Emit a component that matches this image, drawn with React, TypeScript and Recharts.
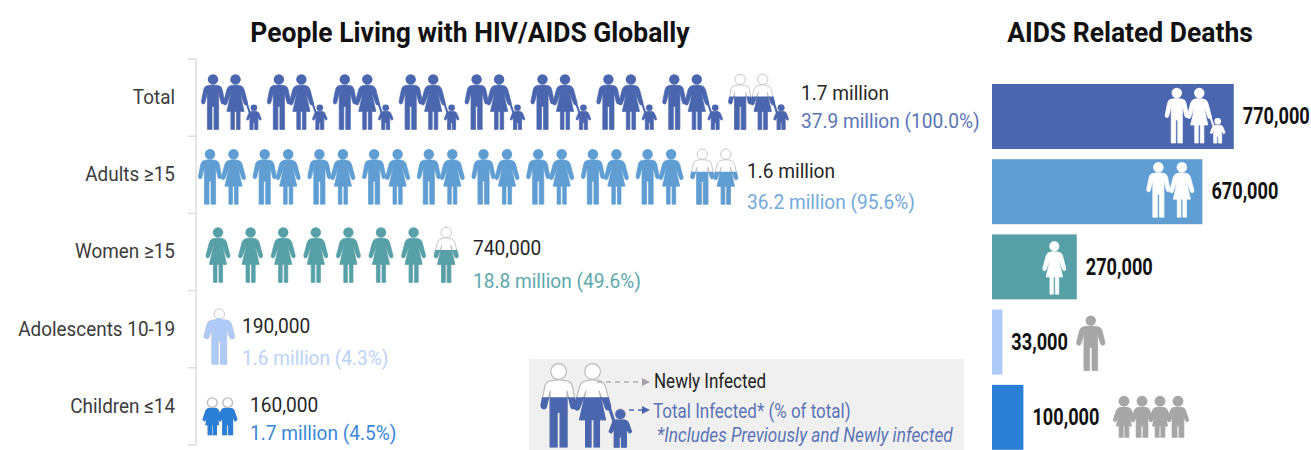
import { BarChart, Bar, XAxis, YAxis, LabelList } from 'recharts';

// left panel: people living with HIV/AIDS
const categories = ['Total', 'Adults ≥15', 'Women ≥15', 'Adolescents 10-19', 'Children ≤14'];
const totalInfected = [37.9, 36.2, 18.8, 1.6, 1.7];
const iconCounts = [9, 10, 8, 1, 1];
const lastIconFill = [0.6, 0.59, 0.59, 0.84, 0.72];
const newlyLabels = ['1.7 million', '1.6 million', '740,000', '190,000', '160,000'];
const totalLabels = ['37.9 million (100.0%)', '36.2 million (95.6%)', '18.8 million (49.6%)', '1.6 million (4.3%)', '1.7 million (4.5%)'];

// right panel: deaths
const deaths = [770000, 670000, 270000, 33000, 100000];

const leftData = categories.map((name, i) => ({ name, total: totalInfected[i] }));
const rightData = categories.map((name, i) => ({ name, deaths: deaths[i] }));

const COLORS = ['#4a66ae', '#5f9dd2', '#58a0a8', '#aecbf8', '#2a7ed6'];
const TEXT_COLORS = ['#5a74b6', '#72a9da', '#5ea8ad', '#bad2f8', '#3a86d8'];
const GRAY = '#a6a6a6';
const OUTLINE = '#bdb8c0';
const FONT = 'Roboto, sans-serif';
const BAND = 77.2;

const MAN = 'M6,11 Q11,10 16,11 Q19.5,11.5 20.2,15 L22.6,27 Q22.9,29 21.2,29.6 Q19.5,30 19,28 L16.6,18 L16.6,55 L12,55 L12,32 L10,32 L10,55 L5.4,55 L5.4,18 L3,28 Q2.5,30 0.8,29.6 Q-0.9,29 -0.6,27 L1.8,15 Q2.5,11.5 6,11Z';
const WOMAN = 'M7,11 Q11,10 15,11 Q18.5,11.5 19.6,15 L23,28 Q23.3,30 21.7,30.5 Q20,30.8 19.5,29 L15.4,18 L19.6,37 L15.6,37 L15.6,55 L12,55 L12,37 L10,37 L10,55 L6.4,55 L6.4,37 L2.4,37 L6.6,18 L2.5,29 Q2,30.8 0.3,30.5 Q-1.3,30 -1,28 L2.4,15 Q3.5,11.5 7,11Z';
const BOY = 'M4,6.3 L9,6.3 Q11,6.8 11.5,9 L13,13 L11.7,13.8 L10,11 L10,22 L7.2,22 L7.2,16 L5.8,16 L5.8,22 L3,22 L3,11 L1.3,13.8 L0,13 L1.5,9 Q2,6.8 4,6.3Z';
const GIRL = 'M4.2,6.3 L8.8,6.3 Q11,6.8 11.5,9 L13,13 L11.7,13.8 L9.6,10.5 L11,16 L9.4,16 L9.4,22 L7.1,22 L7.1,16 L5.9,16 L5.9,22 L3.6,22 L3.6,16 L2,16 L3.4,10.5 L1.3,13.8 L0,13 L1.5,9 Q2,6.8 4.2,6.3Z';

type Paint = { fill: string; stroke?: string };

// no condensed face is installed, so Roboto gets squeezed horizontally
function NarrowText({ x, y, squeeze = 0.91, anchor = 'start', children, ...rest }: any) {
  return (
    <text transform={`translate(${x},${y}) scale(${squeeze},1)`} textAnchor={anchor} dominantBaseline="central" fontFamily={FONT} {...rest}>
      {children}
    </text>
  );
}

function Person({ d, dx = 0, dy = 0, sx = 1, size = 1, paint, w = 22, r = 5.2, headY = 5, weight = 0.7 }: { d: string; dx?: number; dy?: number; sx?: number; size?: number; paint: Paint; w?: number; r?: number; headY?: number; weight?: number }) {
  return (
    <g transform={`translate(${dx},${dy}) scale(${size})`} fill={paint.fill} stroke={paint.stroke ?? paint.fill} strokeWidth={paint.stroke ? 0.8 : weight} strokeLinejoin="round">
      <circle cx={(w / 2) * sx} cy={headY} r={r} strokeWidth={paint.stroke ? 0.8 : 0} />
      <path d={d} transform={`scale(${sx},1)`} />
    </g>
  );
}

const manOf = (paint: Paint, dx = 0, sx = 1) => <Person d={MAN} paint={paint} dx={dx} sx={sx} />;
const womanOf = (paint: Paint, dx = 0) => <Person d={WOMAN} paint={paint} dx={dx} />;

function Child({ d, dx = 0, dy = 0, size = 1, sx = 1, paint }: { d: string; dx?: number; dy?: number; size?: number; sx?: number; paint: Paint }) {
  return <Person d={d} dx={dx} dy={dy} size={size} sx={sx} paint={paint} w={13} r={2.9} headY={2.9} weight={0.7} />;
}

function Couple({ paint }: { paint: Paint }) {
  return <>{manOf(paint)}{womanOf(paint, 23.5)}</>;
}

function Family({ paint }: { paint: Paint }) {
  return (
    <>
      {manOf(paint)}
      {womanOf(paint, 22.5)}
      <line x1={44} y1={27} x2={48} y2={39} stroke={paint.stroke ?? paint.fill} strokeWidth={2} />
      <Child d={BOY} dx={44.5} dy={30} size={1.14} paint={paint} />
    </>
  );
}

function Pair({ paint }: { paint: Paint }) {
  return (
    <>
      <Child d={GIRL} sx={0.85} size={2.5} paint={paint} />
      <Child d={BOY} dx={23} sx={0.85} size={2.5} paint={paint} />
    </>
  );
}

const GLYPHS = [
  (p: Paint) => <Family paint={p} />,
  (p: Paint) => <Couple paint={p} />,
  (p: Paint) => womanOf(p),
  (p: Paint) => manOf(p, 0, 1.3),
  (p: Paint) => <Pair paint={p} />,
];

// per row: where the icons start, their step, top and scale, and where the two labels sit
const ROWS = [
  { start: 6, step: 65.9, top: -23.6, size: 1, label: 605, up: -5, down: 22.5 },
  { start: 3, step: 54.7, top: -26, size: 1, label: 551, up: -5, down: 26 },
  { start: 11, step: 32.6, top: -25, size: 1, label: 277, up: -5, down: 28 },
  { start: 9, step: 0, top: -20.5, size: 1, label: 46, up: -3.5, down: 28.5 },
  { start: 7, step: 0, top: -9, size: 0.67, label: 54, up: -2, down: 26 },
];

function PartialIcon({ glyph, share, id }: { glyph: (p: Paint) => JSX.Element; share: number; id: string }) {
  return (
    <>
      {glyph({ fill: '#ffffff', stroke: OUTLINE })}
      <clipPath id={id}>
        <rect x={-5} y={55 * (1 - share)} width={110} height={60} />
      </clipPath>
      <g clipPath={`url(#${id})`}>{glyph({ fill: 'currentColor' })}</g>
    </>
  );
}

function PictogramRow(props: any) {
  const { x, y, height, index } = props;
  const row = ROWS[index];
  const cy = y + height / 2;
  const glyph = GLYPHS[index];
  const count = iconCounts[index];
  const icons = [];
  for (let i = 0; i < count; i++) {
    const left = x + row.start + i * row.step;
    icons.push(
      <g key={i} transform={`translate(${left},${cy + row.top}) scale(${row.size})`} color={COLORS[index]}>
        {i < count - 1
          ? glyph({ fill: COLORS[index] })
          : <PartialIcon glyph={glyph} share={lastIconFill[index]} id={`partial-${index}`} />}
      </g>,
    );
  }
  return (
    <g>
      {icons}
      <NarrowText x={x + row.label} y={cy + row.up} fontSize={21} fill="#262626">{newlyLabels[index]}</NarrowText>
      <NarrowText x={x + row.label} y={cy + row.down} fontSize={21} fill={TEXT_COLORS[index]}>{totalLabels[index]}</NarrowText>
    </g>
  );
}

function CategoryTick(props: any) {
  const { y, payload, index } = props;
  const axis = 196;
  return (
    <g>
      <NarrowText x={axis - 21} y={y - 1} anchor="end" fontSize={21} squeeze={0.9} fill="#3c3c3c">{payload.value}</NarrowText>
      <line x1={axis - 8} x2={axis} y1={y + BAND / 2} y2={y + BAND / 2} stroke="#dcdcdc" strokeWidth={1.5} />
      {index === 0 && <line x1={axis - 8} x2={axis} y1={y - BAND / 2} y2={y - BAND / 2} stroke="#dcdcdc" strokeWidth={1.5} />}
    </g>
  );
}

function DeathBar(props: any) {
  const { x, y, width, height, index } = props;
  const right = x + width;
  const fill = COLORS[index];
  const white = { fill: '#ffffff' };
  const gray = { fill: GRAY };
  return (
    <g>
      <rect x={x} y={y} width={width} height={height} fill={fill} />
      {index === 0 && <g transform={`translate(${right - 68},${y + 4})`}><Family paint={white} /></g>}
      {index === 1 && <g transform={`translate(${right - 55},${y + 3})`}><Couple paint={white} /></g>}
      {index === 2 && <g transform={`translate(${right - 33},${y + 7}) scale(0.96)`}>{womanOf(white)}</g>}
      {index === 3 && <g transform={`translate(${right + 75},${y + 6})`}>{manOf(gray, 0, 1.22)}</g>}
      {index === 4 && (
        <g transform={`translate(${right + 90},${y + 11}) scale(0.75)`}>
          <Child d={GIRL} sx={0.87} size={2.5} paint={gray} />
          <Child d={BOY} dx={24} sx={0.87} size={2.5} paint={gray} />
          <Child d={GIRL} dx={48} sx={0.87} size={2.5} paint={gray} />
          <Child d={BOY} dx={72} sx={0.87} size={2.5} paint={gray} />
        </g>
      )}
    </g>
  );
}

function DeathLabel(props: any) {
  const { x, y, width, height, value } = props;
  return (
    <NarrowText x={x + width + 9} y={y + height / 2} fontSize={23} squeeze={0.79} fontWeight={700} fill="#111">
      {Number(value).toLocaleString('en-US')}
    </NarrowText>
  );
}

function KeyPanel() {
  const size = 83 / 55;
  return (
    <svg width={435} height={91} style={{ position: 'absolute', left: 529, top: 359 }}>
      <rect width={435} height={91} fill="#f0f0f0" />
      <g transform={`translate(13,5) scale(${size})`} color={COLORS[0]}>
        <PartialIcon glyph={(p) => <Family paint={p} />} share={0.6} id="partial-key" />
      </g>
      <line x1={68} x2={114} y1={23} y2={23} stroke="#b0a8b4" strokeWidth={1.5} strokeDasharray="5 4" />
      <path d="M113,19 L121,23 L113,27Z" fill="#a79ead" />
      <line x1={100} x2={114} y1={51} y2={51} stroke={COLORS[0]} strokeWidth={1.5} strokeDasharray="5 4" />
      <path d="M113,47 L121,51 L113,55Z" fill={COLORS[0]} />
      <NarrowText x={125} y={23} fontSize={20} squeeze={0.85} fill="#222222">Newly Infected</NarrowText>
      <NarrowText x={124} y={53} fontSize={20} squeeze={0.85} fill={TEXT_COLORS[0]}>Total Infected* (% of total)</NarrowText>
      <NarrowText x={128} y={77} fontSize={20} squeeze={0.86} fill={TEXT_COLORS[0]} fontStyle="italic">*Includes Previously and Newly infected</NarrowText>
    </svg>
  );
}

const titleStyle = { position: 'absolute', top: 16, fontFamily: FONT, fontWeight: 700, fontSize: 28, lineHeight: '34px', color: '#111', textAlign: 'center', whiteSpace: 'nowrap', transform: 'scaleX(0.945)' } as const;

export default function App() {
  return (
    <div style={{ position: 'fixed', left: 0, top: 0, width: 1311, height: 450, overflow: 'hidden', background: '#fff' }}>
      <div style={{ ...titleStyle, left: 170, width: 600 }}>People Living with HIV/AIDS Globally</div>
      <div style={{ ...titleStyle, left: 980, width: 300 }}>AIDS Related Deaths</div>

      <div style={{ position: 'absolute', left: 0, top: 0 }}>
        <BarChart width={985} height={450} layout="vertical" data={leftData} margin={{ top: 59, right: 5, bottom: 5, left: 0 }}>
          <XAxis type="number" hide domain={[0, 60]} />
          <YAxis type="category" dataKey="name" width={196} tick={<CategoryTick />} tickLine={false} axisLine={{ stroke: '#dcdcdc', strokeWidth: 1.5 }} interval={0} />
          <Bar dataKey="total" barSize={60} shape={PictogramRow} isAnimationActive={false} />
        </BarChart>
      </div>

      <div style={{ position: 'absolute', left: 980, top: 0 }}>
        <BarChart width={331} height={456} layout="vertical" data={rightData} margin={{ top: 79, right: 5, bottom: 1, left: 12 }}>
          <XAxis type="number" hide domain={[0, 1000000]} />
          <YAxis type="category" dataKey="name" hide />
          <Bar dataKey="deaths" barSize={65} shape={DeathBar} isAnimationActive={false}>
            <LabelList dataKey="deaths" content={DeathLabel} />
          </Bar>
        </BarChart>
      </div>

      <KeyPanel />
    </div>
  );
}
